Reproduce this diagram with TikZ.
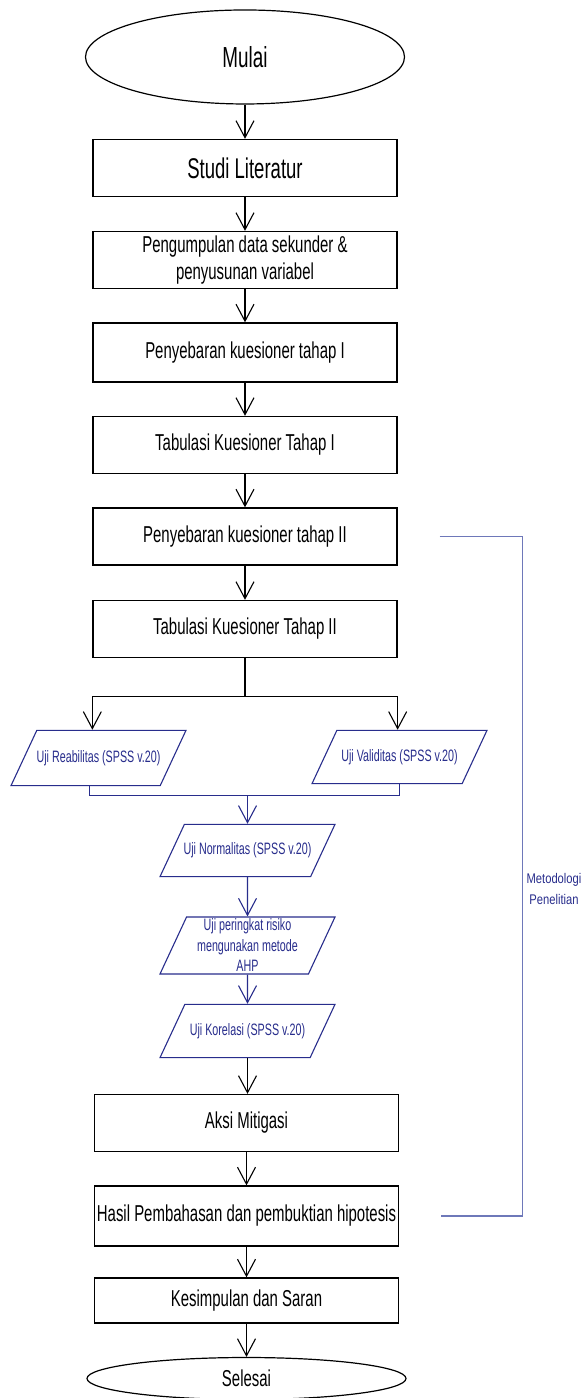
\documentclass[tikz,border=0pt]{standalone}
\usepackage{fontspec}
\setmainfont{Liberation Sans}[FakeStretch=0.65]
\newfontfamily\sidefont{Liberation Sans}[FakeStretch=0.8]
\usetikzlibrary{shapes.geometric,arrows.meta}
\definecolor{flowblue}{RGB}{40,45,140}
\definecolor{bracketblue}{RGB}{110,120,185}

\begin{document}
\begin{tikzpicture}[x=1bp, y=1bp,
startstop/.style={ellipse, draw=black, line width=1.2bp, minimum width=319bp, inner sep=0pt},
procbox/.style={rectangle, draw=black, line width=1.3bp, minimum width=304bp, minimum height=57bp,
    inner xsep=2bp, align=center, font=\fontsize{23bp}{27bp}\selectfont},
databox/.style={trapezium, trapezium left angle=65, trapezium right angle=115, trapezium stretches body,
    draw=flowblue, line width=1.1bp, text=flowblue, minimum width=175bp,
    inner xsep=-8bp, inner ysep=19bp, align=center, font=\fontsize{16.5bp}{20.5bp}\selectfont},
flowline/.style={draw=black, line width=1.1bp, -{Straight Barb[length=17bp, width=18bp]}},
dataline/.style={flowline, draw=flowblue},
bracketline/.style={draw=bracketblue, line width=1.1bp},
]
\useasboundingbox (0,0) rectangle (583,1398);

% main chain
\node (mulai) [startstop, minimum height=94bp, font=\fontsize{29bp}{33bp}\selectfont] at (245,1341) {Mulai};
\node (studi) [procbox, font=\fontsize{28.5bp}{31bp}\selectfont, node distance=111bp, below of=mulai] {Studi Literatur};
\node (kumpul) [procbox, node distance=92bp, below of=studi] {Pengumpulan data sekunder \&\\ penyusunan variabel};
\node (sebar1) [procbox, minimum height=59bp, node distance=92.5bp, below of=kumpul] {Penyebaran kuesioner tahap I};
\node (tab1) [procbox, node distance=92.5bp, below of=sebar1] {Tabulasi Kuesioner Tahap I};
\node (sebar2) [procbox, node distance=91.5bp, below of=tab1] {Penyebaran kuesioner tahap II};
\node (tab2) [procbox, node distance=92.5bp, below of=sebar2] {Tabulasi Kuesioner Tahap II};

% uji
\node (reab) [databox, inner ysep=20bp, node distance=129bp, below of=tab2, xshift=-146.5bp] {Uji Reabilitas (SPSS v.20)};
\node (valid) [databox, node distance=128bp, below of=tab2, xshift=154.5bp] {Uji Validitas (SPSS v.20)};
\node (normal) [databox, inner ysep=18.5bp, node distance=221.5bp, below of=tab2, xshift=2.5bp] {Uji Normalitas (SPSS v.20)};
\node (rank) [databox, inner ysep=2bp, node distance=95bp, below of=normal] {Uji peringkat risiko\\ mengunakan metode\\ AHP};
\node (korel) [databox, node distance=85.5bp, below of=rank] {Uji Korelasi (SPSS v.20)};

% hasil
\node (aksi) [procbox, node distance=92bp, below of=korel, xshift=-1bp] {Aksi Mitigasi};
\node (hasil) [procbox, minimum height=60bp, node distance=93bp, below of=aksi] {Hasil Pembahasan dan pembuktian hipotesis};
\node (simpul) [procbox, minimum height=45bp, node distance=84.5bp, below of=hasil] {Kesimpulan dan Saran};
\node (selesai) [startstop, minimum height=42bp, font=\fontsize{23bp}{27bp}\selectfont, node distance=78bp, below of=simpul] {Selesai};

\foreach \a/\b in {mulai/studi, studi/kumpul, kumpul/sebar1, sebar1/tab1, tab1/sebar2, sebar2/tab2,
    korel/aksi, aksi/hasil, hasil/simpul, simpul/selesai}
  \draw[flowline] (\a.south) -- (\a.south |- \b.north);

% cabang
\coordinate (split) at ([yshift=-38bp]tab2.south);
\draw[line width=1.1bp] (tab2.south) -- (split);
\draw[flowline] (split) -| (tab2.west |- reab.north);
\draw[flowline] (split) -| (tab2.east |- valid.north);

\coordinate (join) at ([yshift=-9bp]reab.south -| normal.north);
\draw[draw=flowblue, line width=1.1bp] ([xshift=-9bp]reab.south) |- (join) -| (valid.south);
\draw[dataline] (join) -- (normal.north);
\draw[dataline] (normal.south) -- (rank.north);
\draw[dataline] (rank.south) -- (korel.north);

% kurung metodologi
\draw[bracketline] ([xshift=42bp]sebar2.east) -| ([xshift=123bp]hasil.east) -- ([xshift=42bp]hasil.east);
\node (metode) [font=\sidefont\fontsize{14bp}{21bp}\selectfont, text=flowblue, align=center] at (554,509) {Metodologi\\ Penelitian};

\end{tikzpicture}
\end{document}
